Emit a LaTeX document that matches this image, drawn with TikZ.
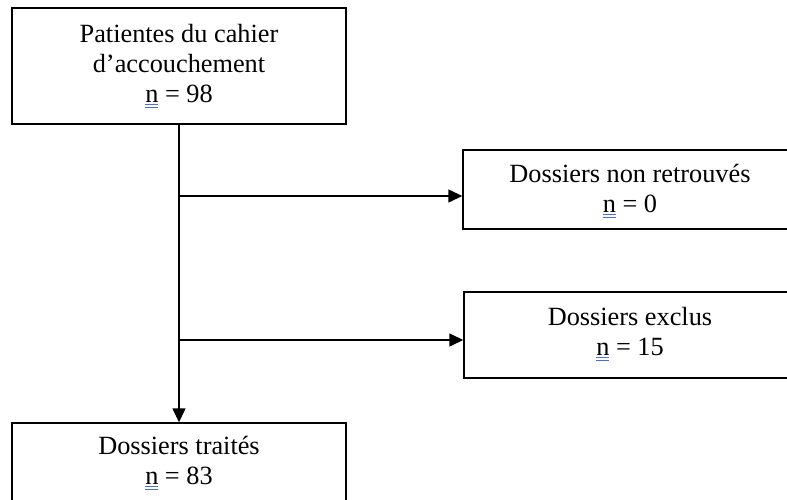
\documentclass[tikz,border=0pt]{standalone}
\usepackage{fontspec}
\setmainfont{Liberation Serif}
\usetikzlibrary{arrows.meta}
\definecolor{ublue}{RGB}{70,110,220}
\newlength\nwid
\newcommand\sqn{\settowidth\nwid{n}\makebox[0pt][l]{\color{ublue}\rule[-3pt]{\nwid}{0.9pt}\hspace{-\nwid}\rule[-6pt]{\nwid}{0.9pt}}n}
\tikzset{
  boxshape/.style={draw, line width=1.4pt, rectangle, inner sep=0pt},
  boxtext/.style={align=center, inner sep=0pt, font=\fontsize{26.3}{30}\selectfont},
  flow/.style={line width=1.4pt, -{Triangle[length=14pt,width=13pt]}},
}
\begin{document}
\begin{tikzpicture}[x=1pt, y=-1pt]
\useasboundingbox (0,0) rectangle (787,499);
\clip (0,0) rectangle (787,499);
\fill[white] (0,0) rectangle (787,499);
% boxes
\node[boxshape, minimum width=334pt, minimum height=116pt] (b1) at (179,66) {};
\node[boxshape, minimum width=334pt, minimum height=79pt] (b2) at (630,189.5) {};
\node[boxshape, minimum width=332pt, minimum height=86pt] (b3) at (630,335) {};
\node[boxshape, minimum width=334pt, minimum height=100pt] (b4) at (179,473) {};
% texts
\node[boxtext] (t1) at (179,66) {Patientes du cahier\\d’accouchement\\\sqn{} = 98};
\node[boxtext] (t2) at (630,191) {Dossiers non retrouvés\\\sqn{} = 0};
\node[boxtext] (t3) at (630,334) {Dossiers exclus\\\sqn{} = 15};
\node[boxtext] (t4) at (179,463) {Dossiers traités\\\sqn{} = 83};
% connectors
\coordinate (j1) at (179,196);
\coordinate (j2) at (179,340);
\draw[flow] (b1.south) -- (b4.north);
\draw[flow] (j1) -- (j1 -| b2.west);
\draw[flow] (j2) -- (j2 -| b3.west);
\end{tikzpicture}
\end{document}
